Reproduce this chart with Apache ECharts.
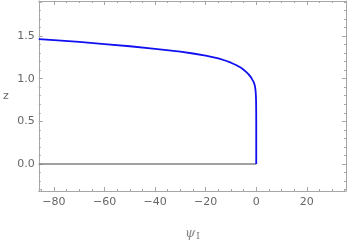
<!DOCTYPE html>
<html><head><meta charset="utf-8">
<script src="https://cdn.jsdelivr.net/npm/echarts@6/dist/echarts.min.js"></script>
<style>html,body{margin:0;padding:0;background:#fff}#c{width:347px;height:247px}</style>
</head><body><div id="c"></div>
<script>
const psi = [-86, -80, -70, -60, -50, -40, -30, -25, -20, -15, -12, -10, -8, -6, -5, -4, -3, -2, -1.5, -1, -0.7, -0.5, -0.3, -0.2, -0.1, -0.05, -0.02, 0, 0];
const zVals = [1.463, 1.452, 1.43, 1.405, 1.38, 1.35, 1.316, 1.295, 1.27, 1.237, 1.21, 1.187, 1.16, 1.127, 1.105, 1.08, 1.05, 1.012, 0.99, 0.96, 0.935, 0.91, 0.87, 0.835, 0.78, 0.72, 0.64, 0.5, 0];
const basePsi = [-86, 0];
const baseZ = [0, 0];
const xTickLabels = ['-80', '-60', '-40', '-20', '0', '20'];
const yTickLabels = ['0.0', '0.5', '1.0', '1.5'];

const frame = '#a6a6a6';
const txt = '#666666';
const xMin = -86, xMax = 35.5, yMin = -0.316, yMax = 1.91;

function axisCommon(showLabels, isX) {
  return {
    type: 'value',
    min: isX ? xMin : yMin,
    max: isX ? xMax : yMax,
    splitNumber: isX ? 6 : 4,
    axisLine: {show: true, onZero: false, lineStyle: {color: frame, width: 1}},
    axisTick: {show: true, inside: true, length: 4, lineStyle: {color: frame}},
    minorTick: {show: true, splitNumber: isX ? 4 : 5, length: 2, lineStyle: {color: frame}},
    splitLine: {show: false},
    axisLabel: {
      show: showLabels,
      showMinLabel: false, showMaxLabel: false,
      color: txt, fontFamily: 'DejaVu Sans', fontSize: 11,
      margin: isX ? 6 : 4,
      formatter: function (v) {
        const list = isX ? xTickLabels : yTickLabels;
        const s = isX ? String(Math.round(v)) : v.toFixed(1);
        const found = list.find(l => l === s);
        return found ? found.replace('-', '\u2212') : '';
      }
    }
  };
}

const chart = echarts.init(document.getElementById('c'), null, {renderer: 'canvas'});
chart.setOption({
  animation: false,
  backgroundColor: '#ffffff',
  grid: {left: 38, right: 1, top: 1, bottom: 56, containLabel: false},
  xAxis: [
    Object.assign(axisCommon(true, true), {
      position: 'bottom',
      name: '{a|\u03c8}{b|I}', nameLocation: 'middle', nameGap: 35,
      nameTextStyle: {rich: {
        a: {fontFamily: 'DejaVu Serif', fontStyle: 'italic', fontSize: 13, color: '#888'},
        b: {fontFamily: 'DejaVu Serif', fontSize: 9, color: '#777', verticalAlign: 'bottom', padding: [6, 0, 0, 1]}
      }}
    }),
    Object.assign(axisCommon(false, true), {position: 'top'})
  ],
  yAxis: [
    Object.assign(axisCommon(true, false), {
      position: 'left',
      name: 'z', nameLocation: 'middle', nameGap: 30, nameRotate: 0,
      nameTextStyle: {color: txt, fontFamily: 'DejaVu Sans', fontSize: 11}
    }),
    Object.assign(axisCommon(false, false), {position: 'right'})
  ],
  series: [
    {
      type: 'line', xAxisIndex: 0, yAxisIndex: 0, showSymbol: false, symbol: 'none',
      data: basePsi.map((x, i) => [x, baseZ[i]]),
      lineStyle: {color: '#808080', width: 1.6}, clip: true, z: 2
    },
    {
      type: 'line', xAxisIndex: 0, yAxisIndex: 0, showSymbol: false, symbol: 'none',
      data: psi.map((x, i) => [x, zVals[i]]),
      lineStyle: {color: '#1010f0', width: 1.8}, clip: true, z: 3
    }
  ]
});
</script></body></html>
